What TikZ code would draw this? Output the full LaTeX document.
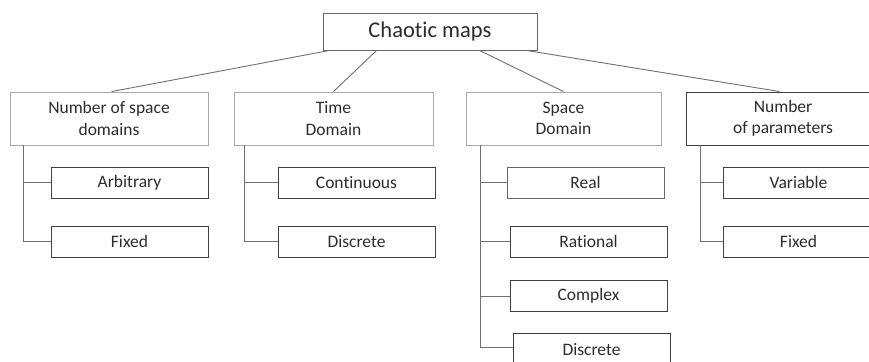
\documentclass[tikz,border=0pt]{standalone}
\usepackage{fontspec}
\setmainfont{Carlito}[Ligatures=NoCommon]
\usetikzlibrary{calc}
\definecolor{txt}{HTML}{2C2C2C}
\definecolor{lightb}{HTML}{A8A8A8}
\definecolor{darkb}{HTML}{404040}
\definecolor{conn}{HTML}{707070}
\begin{document}
\begin{tikzpicture}[x=1pt,y=-1pt,
  rootbox/.style={draw=darkb!80,line width=0.9pt,minimum width=214pt,minimum height=37pt,inner sep=0pt,text=txt,font=\fontsize{22.5}{24}\selectfont},
  catbox/.style={draw=lightb,line width=0.9pt,minimum height=53pt,inner sep=0pt,text=txt,align=center,font=\fontsize{17.5}{21.5}\selectfont},
  leafbox/.style={draw=darkb,line width=0.9pt,minimum width=157pt,minimum height=31pt,inner sep=0pt,text=txt,font=\fontsize{17.5}{21}\selectfont},
  link/.style={draw=conn,line width=0.9pt}]
\useasboundingbox (0,0) rectangle (869,361);
\fill[white] (0,0) rectangle (869,361);
% root
\node[rootbox] (root) at (430,31.5) {Chaotic maps};
% categories
\node[catbox,minimum width=198pt] (b1) at (109,118.5) {Number of space\\domains};
\node[catbox,minimum width=199pt] (b2) at (333.5,118.5) {Time\\Domain};
\node[catbox,minimum width=195pt] (b3) at (563.5,118.5) {Space\\Domain};
\node[catbox,draw=darkb,minimum width=186pt] (b4) at (779,118.5) {\hspace*{8pt}Number\\\hspace*{8pt}of parameters};
% leaves
\node[leafbox] (c11) at (129.5,182.5) {Arbitrary};
\node[leafbox] (c12) at (129.5,241.5) {Fixed};
\node[leafbox] (c21) at (356.5,182.5) {Continuous};
\node[leafbox] (c22) at (356.5,241.5) {Discrete};
\node[leafbox,draw=darkb!80] (c31) at (585.5,182.5) {Real};
\node[leafbox] (c32) at (588.5,241.5) {Rational};
\node[leafbox] (c33) at (588.5,296) {Complex};
\node[leafbox,minimum height=33pt] (c34) at (591.5,349.5) {Discrete};
\node[leafbox,minimum width=151pt] (c41) at (798.5,182.5) {Variable};
\node[leafbox,minimum width=151pt] (c42) at (798.5,241.5) {Fixed};
% root connectors
\coordinate (r1) at ($(root.south west)+(7,0)$);
\coordinate (r2) at ($(root.south west)+(54,0)$);
\coordinate (r3) at ($(root.south west)+(157,0)$);
\coordinate (r4) at ($(root.south west)+(204,0)$);
\draw[link] (r1) -- ($(b1.north west)+(102,0)$);
\draw[link] (r2) -- (b2.north);
\draw[link] (r3) -- (b3.north);
\draw[link] (r4) -- ($(b4.north west)+(94,0)$);
% trunks
\coordinate (t1) at ($(b1.south west)+(14,0)$);
\coordinate (t2) at ($(b2.south west)+(11,0)$);
\coordinate (t3) at ($(b3.south west)+(15,0)$);
\coordinate (t4) at ($(b4.south west)+(15,0)$);
\draw[link] (t1) |- (c11.west);
\draw[link] (t1) |- (c12.west);
\draw[link] (t2) |- (c21.west);
\draw[link] (t2) |- (c22.west);
\draw[link] (t3) |- (c31.west);
\draw[link] (t3) |- (c32.west);
\draw[link] (t3) |- (c33.west);
\draw[link] (t3) |- ($(c34.west)+(0,-2.5)$);
\draw[link] (t4) |- (c41.west);
\draw[link] (t4) |- (c42.west);
\end{tikzpicture}
\end{document}
